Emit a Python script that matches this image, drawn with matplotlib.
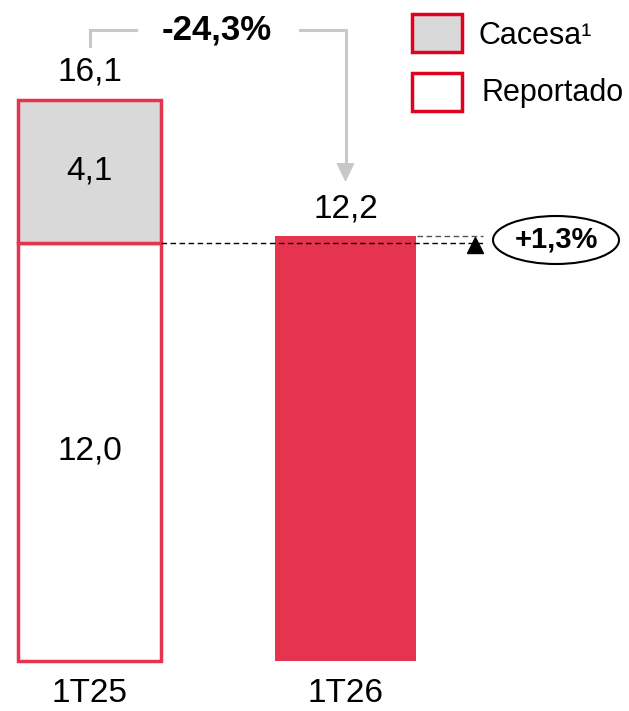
import matplotlib.pyplot as plt
from matplotlib.patches import Rectangle, Ellipse

categories = ['1T25', '1T26']
reportado = [12.0, 12.2]
cacesa = [4.1, 0.0]
totals = [16.1, 12.2]
pct_total = '-24,3%'
pct_reportado = '+1,3%'

red = '#E6344F'
red_legend = '#E2001F'
gray = '#D9D9D9'

plt.rcParams['font.family'] = ['Liberation Sans', 'DejaVu Sans']

fig = plt.figure(figsize=(6.29, 7.11), dpi=100)
ax = fig.add_axes([0, 0, 1, 1])
scale = 34.84  # px per unit
base = 661
ax.set_xlim(0, 629)
ax.set_ylim((base - 711) / scale, base / scale)
ax.axis('off')


def py(p):
    return (base - p) / scale


def fmt(v):
    return f'{v:.1f}'.replace('.', ',')


xs = [89.5, 345.5]
w = 143

# 1T25: outlined stacked bar
ax.bar(xs[0], reportado[0], width=w, color='white', edgecolor=red, linewidth=2.5)
ax.bar(xs[0], cacesa[0], bottom=reportado[0], width=w, color=gray, edgecolor=red, linewidth=2.5)
# 1T26: solid bar
ax.bar(xs[1], reportado[1], width=w - 2, color=red, edgecolor='none')

fs = 24
ax.text(xs[0], py(72), fmt(totals[0]), ha='center', va='center', fontsize=fs)
ax.text(xs[0], reportado[0] + cacesa[0] / 2, fmt(cacesa[0]),
        ha='center', va='center', fontsize=fs)
ax.text(xs[0], py(451), fmt(reportado[0]), ha='center', va='center', fontsize=fs)
ax.text(xs[1], py(209), fmt(reportado[1]), ha='center', va='center', fontsize=fs)
for x, c in zip(xs, categories):
    ax.text(x, py(694), c, ha='center', va='center', fontsize=fs)

# -24,3% bracket
bc = '#C8C8C8'
ax.plot([xs[0], xs[0], 136], [py(46), py(30), py(30)], color=bc, lw=2.2,
        solid_joinstyle='miter')
ax.plot([300, xs[1], xs[1]], [py(30), py(30), py(166)], color=bc, lw=2.2,
        solid_joinstyle='miter')
ax.annotate('', xy=(xs[1], py(182)), xytext=(xs[1], py(164)),
            arrowprops=dict(arrowstyle='-|>,head_length=1.2,head_width=0.58',
                            mutation_scale=10, color=bc, lw=1,
                            shrinkA=0, shrinkB=0))
ax.text(217, py(30), pct_total, ha='center', va='center', fontsize=25,
        fontweight='bold')

# +1,3% comparison
ax.plot([161, 483], [reportado[0], reportado[0]], color='black', lw=1,
        ls=(0, (4, 2.5)))
ax.plot([417, 483], [reportado[1], reportado[1]], color='#555555', lw=1,
        ls=(0, (4, 2.5)))
ax.plot([475], [py(245)], marker='^', color='black', markersize=12)
ax.add_patch(Ellipse((556, py(240)), 126, 48 / scale, facecolor='white',
                     edgecolor='black', lw=1.5))
ax.text(556, py(240), pct_reportado, ha='center', va='center', fontsize=21,
        fontweight='bold')

# legend
ax.add_patch(Rectangle((412, py(52)), 50, 38 / scale, facecolor=gray,
                       edgecolor=red_legend, lw=2.5))
ax.add_patch(Rectangle((412, py(111)), 50, 38 / scale, facecolor='white',
                       edgecolor=red_legend, lw=2.5))
ax.text(478, py(36), 'Cacesa¹', ha='left', va='center', fontsize=22)
ax.text(481, py(93), 'Reportado', ha='left', va='center', fontsize=22)

fig.savefig('out.png', dpi=100)
